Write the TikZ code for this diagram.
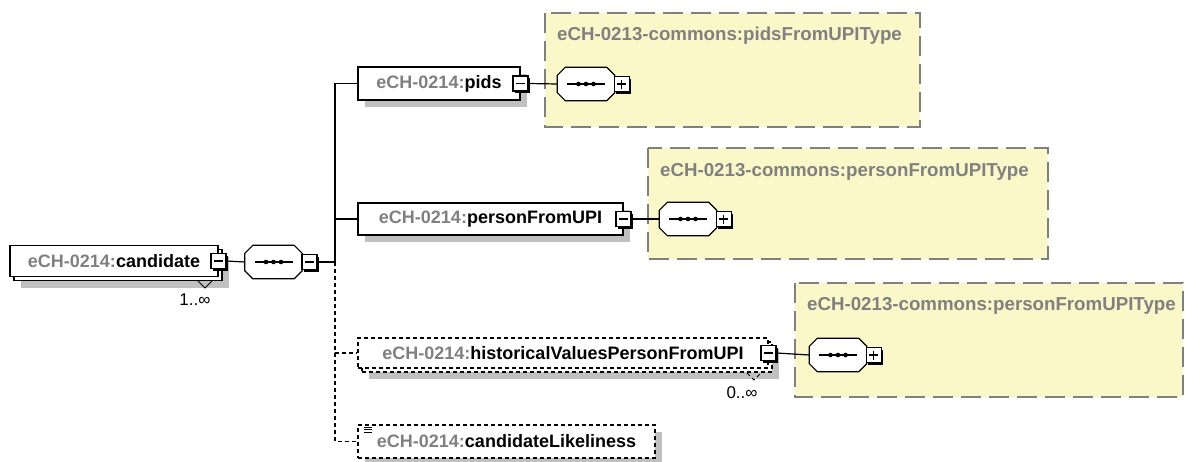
\documentclass[tikz,border=0pt]{standalone}
\usepackage{fontspec}
\setmainfont{Liberation Sans}
\usetikzlibrary{positioning,shadows}

\definecolor{typefill}{RGB}{250,248,200}
\definecolor{typeline}{RGB}{128,128,128}
\definecolor{prefixgray}{RGB}{128,128,128}
\definecolor{shadowgray}{RGB}{192,192,192}

\newcommand{\ename}[1]{{\color{prefixgray}eCH-0214:}#1}
\newcommand{\octpath}[1]{([xshift=8pt]#1.north west) -- ([xshift=-8pt]#1.north east) -- ([yshift=-8pt]#1.north east)
	-- ([yshift=8pt]#1.south east) -- ([xshift=-8pt]#1.south east) -- ([xshift=8pt]#1.south west)
	-- ([yshift=8pt]#1.south west) -- ([yshift=-8pt]#1.north west) -- cycle}

\tikzset{
	elem/.style={draw, fill=white, line width=1.2pt, minimum height=31pt, inner sep=0pt,
		font=\bfseries\fontsize{18}{20}\selectfont},
	single/.style={elem, drop shadow={shadow xshift=7pt, shadow yshift=-7pt, fill=shadowgray, opacity=1}},
	multi/.style={elem, drop shadow={shadow xshift=11pt, shadow yshift=-11pt, fill=shadowgray, opacity=1},
		copy shadow={shadow xshift=4pt, shadow yshift=-4pt, fill=white}},
	opt/.style={dash pattern=on 4pt off 3pt},
	seqbox/.style={rectangle, minimum width=57pt, minimum height=33pt, inner sep=0pt},
	pmbox/.style={draw, fill=white, line width=1.3pt, minimum size=15pt, inner sep=0pt,
		drop shadow={shadow xshift=2pt, shadow yshift=-2pt, fill=black, opacity=1}},
	minus/.style={pmbox, path picture={
		\draw[line width=1.1pt] ([xshift=3pt]path picture bounding box.west) -- ([xshift=-3pt]path picture bounding box.east);}},
	plus/.style={pmbox, path picture={
		\draw[line width=1.1pt] ([xshift=3pt]path picture bounding box.west) -- ([xshift=-3pt]path picture bounding box.east);
		\draw[line width=1.1pt] ([yshift=-3pt]path picture bounding box.north) -- ([yshift=3pt]path picture bounding box.south);}},
	typebox/.style={fill=typefill, draw=typeline, line width=1.2pt, dash pattern=on 20pt off 8pt},
	typetitle/.style={anchor=west, inner sep=0pt, text=typeline, font=\bfseries\fontsize{18.7}{21}\selectfont},
	card/.style={inner sep=0pt, font=\fontsize{17}{19}\selectfont}
}

\begin{document}
\begin{tikzpicture}[x=1pt, y=-1pt]
	\useasboundingbox (0,0) rectangle (1185,461);
	
	% complex types
	\filldraw[typebox] (545,13) rectangle (920,127);
	\filldraw[typebox] (648,148) rectangle (1048,259);
	\filldraw[typebox] (795,283) rectangle (1183,397);
	\node[typetitle] (tPids) at (557,36) {eCH-0213-commons:pidsFromUPIType};
	\node[typetitle] (tPers) at (660,172) {eCH-0213-commons:personFromUPIType};
	\node[typetitle] (tHist) at (807,306) {eCH-0213-commons:personFromUPIType};
	
	% elements
	\node[multi, minimum width=208pt] (cand) at (114,261) {\ename{candidate}};
	\node[single, minimum width=162pt, minimum height=33pt] (pids) at (439,83.5) {\ename{pids}};
	\node[single, minimum width=265pt, minimum height=32pt] (pers) at (490.5,219) {\ename{personFromUPI}};
	\node[multi, opt, minimum width=410pt, minimum height=30pt] (hist) at (563,353) {\ename{historicalValuesPersonFromUPI}};
	\node[single, opt, minimum width=297pt, minimum height=33pt] (like) at (506.5,441.5) {\ename{candidateLikeliness}};
	
	% sequences
	\node[seqbox] (seqC) at (273.5,262) {};
	\node[seqbox] (seqP) at (586,84) {};
	\node[seqbox] (seqU) at (688,219) {};
	\node[seqbox] (seqH) at (838,355) {};
	\coordinate (bus) at (335,262);
	
	\foreach \s in {seqC,seqP,seqU,seqH}
	{
		\fill[shadowgray, shift={(6,6)}] \octpath{\s};
		\filldraw[fill=white, line width=1.2pt] \octpath{\s};
		\draw[line width=1.2pt] ([xshift=-19pt]\s.center) -- ([xshift=19pt]\s.center);
		\foreach \dx in {-7.5,0,7.5}
			\fill ([xshift=\dx pt]\s.center) circle (2.3);
	}
	
	% expand and collapse boxes
	\node[minus] (candM) at (cand.east) {};
	\node[minus] (pidsM) at (pids.east) {};
	\node[minus] (persM) at (pers.east) {};
	\node[minus] (histM) at (hist.east) {};
	\node[minus, anchor=west] (seqCM) at ([xshift=-1pt]seqC.east) {};
	\node[plus, anchor=west] (seqPP) at ([xshift=-1pt]seqP.east) {};
	\node[plus, anchor=west] (seqUP) at ([xshift=-1pt]seqU.east) {};
	\node[plus, anchor=west] (seqHP) at ([xshift=-1pt]seqH.east) {};
	
	% connectors
	\draw[line width=1.2pt] (candM.east) -- (seqC.west);
	\draw[line width=1.2pt] (seqCM.east) -- (bus);
	\draw[line width=1.2pt] (bus) |- (pids.west);
	\draw[line width=1.2pt] (bus) |- (pers.west);
	\draw[line width=1.2pt, opt] (bus) |- (hist.west);
	\draw[line width=1.2pt, opt] (bus) |- (like.west);
	\draw[line width=1.2pt] (pidsM.east) -- (seqP.west);
	\draw[line width=1.2pt] (persM.east) -- (seqU.west);
	\draw[line width=1.2pt] (histM.east) -- (seqH.west);
	
	% occurrences
	\draw[line width=0.8pt] (198,281) -- (205,288) -- (212,281);
	\node[card] (cardC) at (195,300) {1..∞};
	\draw[line width=0.8pt, opt] (747,373) -- (754,380) -- (761,373);
	\node[card] (cardH) at (742,393) {0..∞};
	
	% simple content mark
	\foreach \y in {427,429.5,432}
		\draw[line width=0.8pt] (364,\y) -- (372,\y);
	
\end{tikzpicture}
\end{document}
